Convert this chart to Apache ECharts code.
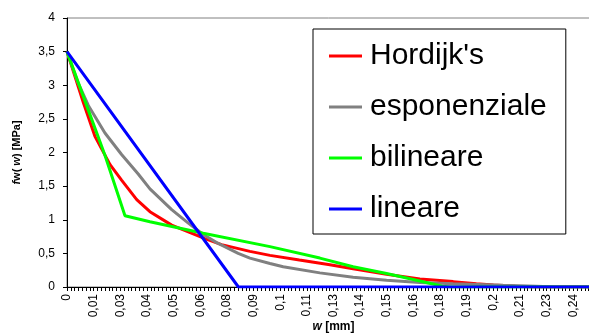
<!DOCTYPE html>
<html>
<head>
<meta charset="utf-8">
<script src="https://cdn.jsdelivr.net/npm/echarts@6/dist/echarts.min.js"></script>
<style>
html,body{margin:0;padding:0;background:#fff;}
#chart{width:589px;height:334px;}
</style>
</head>
<body>
<div id="chart"></div>
<script>
// ---- data ----
const seriesNames = ["Hordijk's", "esponenziale", "bilineare", "lineare"];

const wHordijk = [0, 0.0077, 0.0131, 0.0202, 0.0256, 0.0327, 0.0389, 0.0491, 0.0569, 0.0647, 0.0725, 0.0858, 0.0952, 0.1090, 0.1233, 0.1342, 0.1499, 0.1655, 0.1811, 0.1920, 0.2000, 0.2100, 0.2200, 0.25];
const fHordijk = [3.5, 2.74, 2.24, 1.82, 1.59, 1.30, 1.12, 0.92, 0.82, 0.72, 0.63, 0.53, 0.47, 0.40, 0.33, 0.27, 0.19, 0.12, 0.08, 0.05, 0.03, 0.01, 0, 0];

const wEsp = [0, 0.0050, 0.0100, 0.0178, 0.0256, 0.0334, 0.0389, 0.0491, 0.0569, 0.0639, 0.0702, 0.0803, 0.0858, 0.0952, 0.1014, 0.1186, 0.1342, 0.1499, 0.1655, 0.1811, 0.1967, 0.2045, 0.2200, 0.2300, 0.25];
const fEsp = [3.5, 3.05, 2.70, 2.29, 1.97, 1.68, 1.46, 1.15, 0.95, 0.78, 0.66, 0.50, 0.43, 0.35, 0.30, 0.21, 0.145, 0.10, 0.068, 0.05, 0.035, 0.025, 0.01, 0, 0];

const wBil = [0, 0.0100, 0.0178, 0.0272, 0.0389, 0.0639, 0.0952, 0.1186, 0.1342, 0.1499, 0.1655, 0.1760, 0.1800, 0.25];
const fBil = [3.5, 2.63, 1.96, 1.06, 0.97, 0.80, 0.60, 0.43, 0.30, 0.20, 0.09, 0.01, 0, 0];

const wLin = [0, 0.0804, 0.25];
const fLin = [3.5, 0, 0];

const xTickLabels = ['0','0,01','0,03','0,04','0,05','0,06','0,08','0,09','0,1','0,11','0,13','0,14','0,15','0,16','0,18','0,19','0,2','0,21','0,23','0,24'];
const yTickLabels = ['0','0,5','1','1,5','2','2,5','3','3,5','4'];

const colors = ['#FF0000', '#808080', '#00FF00', '#0000FF'];

function pairs(w, f) { return w.map((x, i) => [x, f[i]]); }
const allData = [pairs(wHordijk, fHordijk), pairs(wEsp, fEsp), pairs(wBil, fBil), pairs(wLin, fLin)];

const chart = echarts.init(document.getElementById('chart'), null, {renderer: 'canvas'});
const FONT = 'Liberation Sans, Arial, sans-serif';

chart.setOption({
  animation: false,
  backgroundColor: '#fff',
  grid: {left: 67, right: -11, top: 18, bottom: 47, containLabel: false, outerBoundsMode: 'none',
    show: true, borderColor: '#808080', borderWidth: 1, backgroundColor: 'transparent'},
  xAxis: {
    type: 'value', min: 0, max: 0.25, interval: 0.0125,
    name: '{i|w} [mm]', nameLocation: 'middle', nameGap: 34, nameMoveOverlap: false,
    nameTextStyle: {fontFamily: FONT, fontSize: 12, fontWeight: 'bold', color: '#000',
      rich: {i: {fontFamily: FONT, fontSize: 12, fontWeight: 'bold', fontStyle: 'italic', color: '#000'}}},
    axisLine: {show: true, lineStyle: {color: '#000', width: 1}},
    axisTick: {show: true, length: 4, inside: false, lineStyle: {color: '#000'}},
    minorTick: {show: true, splitNumber: 7, length: 4, lineStyle: {color: '#000'}},
    splitLine: {show: false},
    axisLabel: {
      rotate: 90, margin: 7, fontFamily: FONT, fontSize: 12, color: '#000', showMaxLabel: false,
      formatter: function (v) {
        const k = Math.round(v / 0.0125);
        return (k >= 0 && k < xTickLabels.length) ? xTickLabels[k] : '';
      }
    }
  },
  yAxis: {
    type: 'value', min: 0, max: 4, interval: 0.5,
    name: '{i|f}w( {i|w}) [MPa]', nameLocation: 'middle', nameGap: 45, nameRotate: 90, nameMoveOverlap: false,
    nameTextStyle: {fontFamily: FONT, fontSize: 11, fontWeight: 'bold', color: '#000',
      rich: {i: {fontFamily: FONT, fontSize: 11, fontWeight: 'bold', fontStyle: 'italic', color: '#000'}}},
    axisLine: {show: true, lineStyle: {color: '#000', width: 1}},
    axisTick: {show: true, length: 4, inside: false, lineStyle: {color: '#000'}},
    splitLine: {show: false},
    axisLabel: {
      margin: 12, fontFamily: FONT, fontSize: 12, color: '#000',
      formatter: function (v) { return yTickLabels[Math.round(v / 0.5)]; }
    }
  },
  legend: {
    orient: 'vertical', left: 313, top: 29,
    padding: [12, 19, 10, 16],
    backgroundColor: '#fff', borderColor: '#000', borderWidth: 1,
    itemGap: 21, itemWidth: 33, itemHeight: 3, icon: 'rect',
    textStyle: {fontFamily: FONT, fontSize: 30, color: '#000', lineHeight: 30, padding: [0, 0, 0, 3]},
    data: seriesNames
  },
  series: seriesNames.map((n, i) => ({
    name: n, type: 'line', data: allData[i], showSymbol: false, symbol: 'none',
    color: colors[i], lineStyle: {color: colors[i], width: 3}, z: 2 + i,
    emphasis: {disabled: true}, silent: true
  }))
});
</script>
</body>
</html>
